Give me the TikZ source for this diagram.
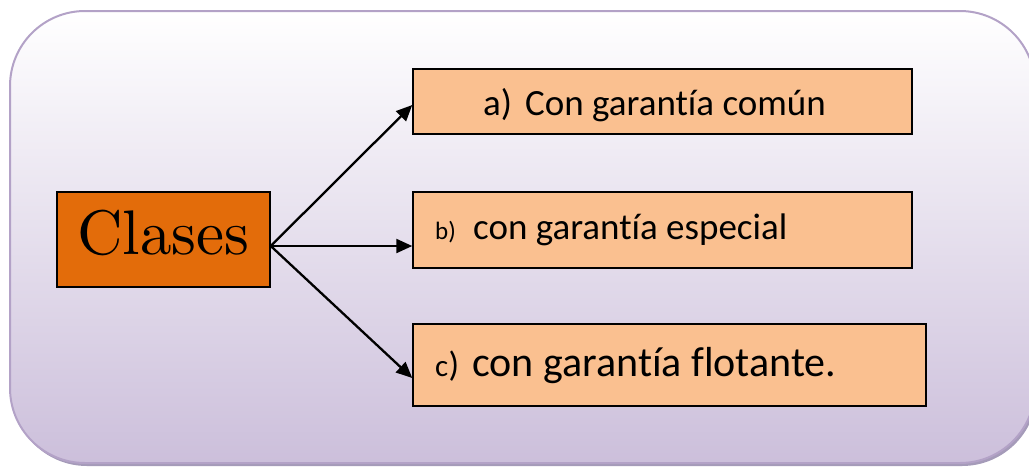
\documentclass[tikz,border=0pt]{standalone}
\usepackage{fontspec}
\newfontfamily\carl[Ligatures=NoCommon]{Carlito}
\newfontfamily\clsfont{lmroman10-regular.otf}
\usetikzlibrary{arrows.meta}
\definecolor{frameline}{RGB}{179,162,199}
\definecolor{framebot}{RGB}{204,191,219}
\definecolor{shadowc}{RGB}{165,155,185}
\definecolor{darkorange}{RGB}{227,108,10}
\definecolor{lightorange}{RGB}{250,192,144}
\tikzset{
  clsbox/.style={draw=black, line width=1.5pt, fill=darkorange, inner sep=0pt},
  itembox/.style={draw=black, line width=1.5pt, fill=lightorange, inner sep=0pt},
  txt/.style={inner sep=0pt, anchor=base west, font=\carl},
  arr/.style={line width=2.3pt, -{Triangle[length=16pt,width=14pt]}},
}
\begin{document}
\begin{tikzpicture}[x=1pt,y=-1pt]
\useasboundingbox (0,0) rectangle (1029,467);
\clip (0,0) rectangle (1029,467);
% frame
\fill[shadowc, rounded corners=75pt] (12,14) rectangle (1037,466);
\shade[top color=white, bottom color=framebot, rounded corners=75pt] (10,11) rectangle (1035,463);
\draw[frameline, line width=2pt, rounded corners=75pt] (10,11) rectangle (1035,463);
% boxes
\node[clsbox, minimum width=213pt, minimum height=95pt] (cl) at (163.5,239.5) {};
\node[inner sep=0pt, anchor=base, font=\clsfont\fontsize{63}{63}\selectfont] (clt) at (163.5,254) {Clases};
\node[itembox, minimum width=499pt, minimum height=65pt] (a) at (662.5,101.5) {};
\node[itembox, minimum width=499pt, minimum height=76pt] (b) at (662.5,230) {};
\node[itembox, minimum width=513pt, minimum height=82pt] (c) at (669.5,365) {};
% texts
\node[txt, font=\carl\fontsize{37}{37}\selectfont] (at) at (483,115) {a)\hspace{13pt}Con garantía común};
\node[txt, font=\carl\fontsize{25}{25}\selectfont] (bl) at (435,239) {b)};
\node[txt, font=\carl\fontsize{37}{37}\selectfont] (bt) at (473,239) {con garantía especial};
\node[txt, font=\carl\fontsize{31}{31}\selectfont] (cl1) at (435,376) {c};
\node[txt, font=\carl\fontsize{35}{35}\selectfont] (cl2) at (cl1.base east) {)};
\node[txt, font=\carl\fontsize{42}{42}\selectfont] (ct) at (472,376) {con garantía flotante.};
% arrows
\coordinate (o) at ([yshift=-6.5pt]cl.east);
\draw[arr] (o) -- ([yshift=-3.5pt]a.west);
\draw[arr] (o) -- ([yshift=-16pt]b.west);
\draw[arr] (o) -- ([yshift=-13pt]c.west);
\end{tikzpicture}
\end{document}
